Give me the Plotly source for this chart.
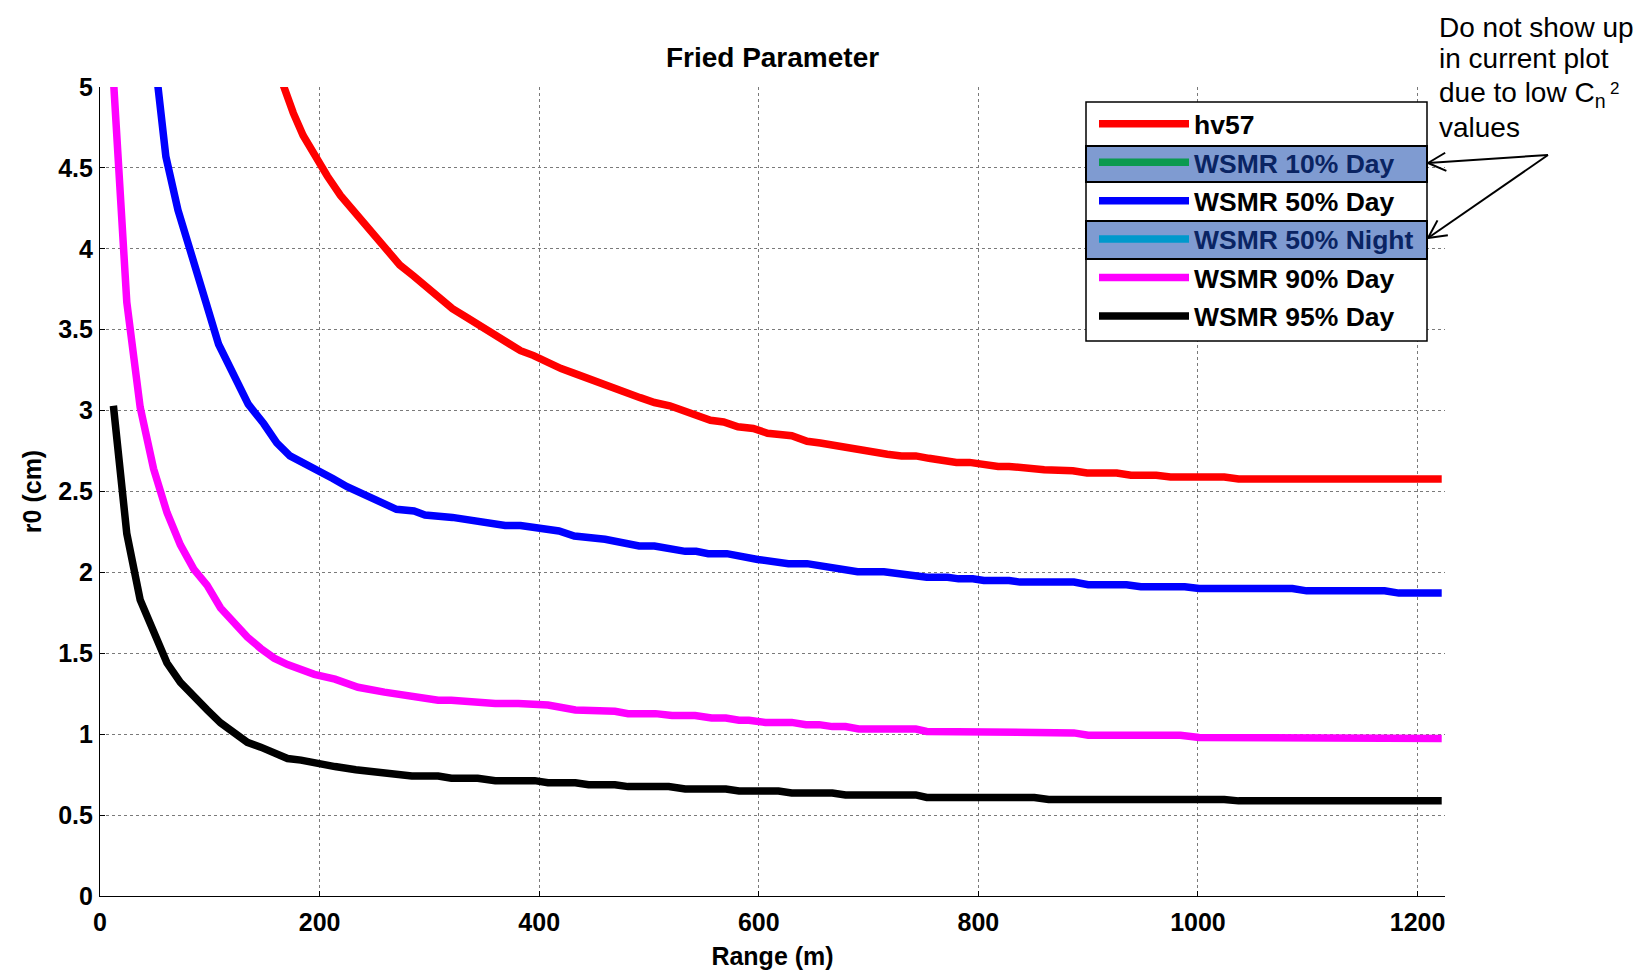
import math
import plotly.graph_objects as go

# ---------------- data ----------------
hv57_x = [158, 167, 176, 185, 195, 207, 219, 234, 246, 258, 273, 286, 298, 310, 321, 333,
          345, 357, 369, 383, 395, 407, 420, 432, 444, 456, 468, 480, 492, 505, 519, 531,
          543, 556, 568, 581, 595, 608, 630, 644, 656, 668, 680, 693, 705, 717, 730, 743,
          755, 770, 780, 792, 806, 818, 828, 847, 860, 886, 899, 926, 939, 962, 975, 1024,
          1037, 1222]
hv57_y = [5.18, 5.00, 4.84, 4.70, 4.58, 4.45, 4.33, 4.21, 4.10, 4.01, 3.90, 3.83, 3.76, 3.69,
          3.63, 3.58, 3.53, 3.48, 3.43, 3.37, 3.34, 3.30, 3.26, 3.23, 3.20, 3.17, 3.13, 3.10,
          3.08, 3.05, 3.03, 3.00, 2.97, 2.94, 2.93, 2.90, 2.89, 2.86, 2.845, 2.81, 2.80, 2.785,
          2.77, 2.76, 2.745, 2.73, 2.72, 2.72, 2.705, 2.69, 2.68, 2.68, 2.665, 2.655, 2.655,
          2.64, 2.635, 2.628, 2.614, 2.614, 2.60, 2.60, 2.59, 2.59, 2.578, 2.578]

# these two series have no values inside the plotted range (legend only)
day10_x = [None]
day10_y = [None]

day50_x = [47, 60, 71, 83.5, 96, 108, 122, 135, 149, 161, 173, 185, 199, 212, 225, 240, 252,
           270, 286, 296, 321, 345, 369, 383, 401, 418, 432, 460, 491, 505, 533, 543, 554,
           571, 599, 627, 644, 690, 714, 728, 743, 753, 772, 782, 795, 805, 828, 838, 887,
           900, 935, 948, 988, 1001, 1086, 1099, 1170, 1183, 1222]
day50_y = [5.35, 4.57, 4.24, 3.94, 3.68, 3.41, 3.21, 3.04, 2.92, 2.80, 2.72, 2.68, 2.63, 2.58,
           2.53, 2.48, 2.44, 2.39, 2.38, 2.355, 2.34, 2.31, 2.29, 2.29, 2.27, 2.256, 2.225,
           2.205, 2.163, 2.163, 2.13, 2.13, 2.116, 2.116, 2.08, 2.054, 2.054, 2.004, 2.004,
           1.99, 1.986, 1.97, 1.97, 1.96, 1.96, 1.95, 1.95, 1.94, 1.94, 1.924, 1.924, 1.911,
           1.911, 1.90, 1.90, 1.886, 1.886, 1.872, 1.872]

night50_x = [None]
night50_y = [None]

day90_x = [12.2, 24.4, 36.6, 48.8, 61, 73.2, 85.4, 97.6, 109.8, 122, 134.2, 146.4, 158.6,
           170.8, 183, 195.2, 214, 235, 259, 284, 308, 320, 335, 344, 360, 381, 400, 408,
           433, 445, 460, 469, 481, 506, 521, 542, 557, 570, 582, 591, 606, 630, 643, 655,
           667, 679, 691, 743, 753, 789, 802, 887, 900, 984, 1001, 1144, 1157, 1222]
day90_y = [5.05, 3.67, 3.02, 2.64, 2.37, 2.17, 2.02, 1.92, 1.78, 1.69, 1.60, 1.53, 1.47, 1.43,
           1.40, 1.37, 1.34, 1.29, 1.26, 1.235, 1.21, 1.21, 1.20, 1.20, 1.19, 1.19, 1.18, 1.18,
           1.15, 1.15, 1.14, 1.142, 1.127, 1.127, 1.115, 1.115, 1.10, 1.10, 1.086, 1.086,
           1.073, 1.073, 1.059, 1.059, 1.047, 1.047, 1.032, 1.032, 1.017, 1.017, 1.008, 1.008,
           0.994, 0.994, 0.98, 0.98, 0.973, 0.973]

day95_x = [12.2, 24.4, 36.6, 48.8, 61, 73.2, 85.4, 97.6, 109.8, 122, 134.2, 146.4, 158.6,
           170.8, 183, 195.2, 214, 233, 250, 259, 284, 308, 320, 344, 360, 396, 408, 433,
           445, 469, 481, 518, 533, 570, 582, 618, 630, 667, 679, 743, 753, 851, 864, 1024,
           1037, 1222]
day95_y = [3.03, 2.24, 1.83, 1.62, 1.44, 1.32, 1.23, 1.15, 1.07, 1.01, 0.95, 0.92, 0.88, 0.85,
           0.84, 0.82, 0.80, 0.78, 0.765, 0.765, 0.742, 0.742, 0.728, 0.728, 0.713, 0.713,
           0.70, 0.70, 0.688, 0.688, 0.676, 0.676, 0.661, 0.661, 0.649, 0.649, 0.637, 0.637,
           0.625, 0.625, 0.609, 0.609, 0.597, 0.597, 0.588, 0.588]

x_ticks = [0, 200, 400, 600, 800, 1000, 1200]
y_ticks = [0, 0.5, 1, 1.5, 2, 2.5, 3, 3.5, 4, 4.5, 5]

series = [
    ("hv57", hv57_x, hv57_y, "#ff0000", False),
    ("WSMR 10% Day", day10_x, day10_y, "#0b9a4f", True),
    ("WSMR 50% Day", day50_x, day50_y, "#0000ff", False),
    ("WSMR 50% Night", night50_x, night50_y, "#0099cc", True),
    ("WSMR 90% Day", day90_x, day90_y, "#ff00ff", False),
    ("WSMR 95% Day", day95_x, day95_y, "#000000", False),
]

# ---------------- layout geometry (screen pixels; page body has an 8px margin) ----------------
OFF = 8
W, H = 1652 - OFF, 970 - OFF
PL, PR, PT, PB = 100, 1445, 87, 896
X_MAX = 1225


def fx(p):
    return (p - PL) / (PR - PL)


def fy(p):
    return (PB - p) / (PB - PT)


FONT = "Liberation Sans, Arial, sans-serif"
HILITE_TEXT = "#0a2463"

fig = go.Figure()
for i, (name, xs, ys, col, hidden) in enumerate(series):
    label = f'<span style="color:{HILITE_TEXT}">{name}</span>' if hidden else name
    fig.add_trace(go.Scatter(x=xs, y=ys, mode="lines", name=label,
                             line=dict(color=col, width=7.5),
                             legendgroup=f"g{i}", showlegend=True))

axis_common = dict(showgrid=True, gridcolor="#7a7a7a", griddash="dot", gridwidth=1,
                   zeroline=False, ticks="inside", ticklen=5, tickcolor="black",
                   tickfont=dict(family=FONT, size=25, color="black", weight="bold"),
                   showline=True, linecolor="black", linewidth=1.2)

fig.update_layout(
    width=W, height=H,
    margin=dict(l=PL - OFF, r=W - (PR - OFF), t=PT - OFF, b=H - (PB - OFF), autoexpand=False),
    paper_bgcolor="white", plot_bgcolor="white",
    title=dict(text="Fried Parameter", x=0.5, xref="paper", xanchor="center",
               y=1 - (57 - OFF) / H, yanchor="middle",
               font=dict(family=FONT, size=28, color="black", weight="bold")),
    xaxis=dict(range=[0, X_MAX], tickvals=x_ticks, ticklabelstandoff=4, **axis_common,
               title=dict(text="Range (m)", standoff=12,
                          font=dict(family=FONT, size=25, color="black", weight="bold"))),
    yaxis=dict(range=[0, 5], tickvals=y_ticks, ticklabelstandoff=1, **axis_common,
               title=dict(text="r0 (cm)", standoff=9,
                          font=dict(family=FONT, size=25, color="black", weight="bold"))),
    xaxis2=dict(range=[0, X_MAX], tickvals=x_ticks, overlaying="x", side="top", anchor="y",
                showgrid=False, zeroline=False, showline=False, ticks="inside", ticklen=5,
                tickcolor="black", showticklabels=False),
    yaxis2=dict(range=[0, 5], tickvals=y_ticks, overlaying="y", side="right", anchor="x",
                showgrid=False, zeroline=False, showline=False, ticks="inside", ticklen=5,
                tickcolor="black", showticklabels=False),
    legend=dict(x=fx(1094), y=fy(100), xanchor="left", yanchor="top",
                bgcolor="rgba(0,0,0,0)", borderwidth=0, itemwidth=90,
                tracegroupgap=1,
                font=dict(family=FONT, size=26.5, color="black", weight="bold")),
    showlegend=True,
)

# legend box and highlighted rows
shapes = [
    dict(type="rect", xref="paper", yref="paper", x0=fx(1086), x1=fx(1427), y0=fy(341), y1=fy(102),
         fillcolor="white", line=dict(color="black", width=1.5), layer="above"),
    dict(type="rect", xref="paper", yref="paper", x0=fx(1086), x1=fx(1427), y0=fy(182), y1=fy(146),
         fillcolor="#7f9bd1", line=dict(color="black", width=2), layer="above"),
    dict(type="rect", xref="paper", yref="paper", x0=fx(1086), x1=fx(1427), y0=fy(259), y1=fy(221),
         fillcolor="#7f9bd1", line=dict(color="black", width=2), layer="above"),
]

# arrows (open V heads)
origin = (1548, 155)
for tip in [(1428, 163), (1428, 238)]:
    shapes.append(dict(type="line", xref="paper", yref="paper",
                       x0=fx(origin[0]), y0=fy(origin[1]), x1=fx(tip[0]), y1=fy(tip[1]),
                       line=dict(color="black", width=2), layer="above"))
    dx, dy = origin[0] - tip[0], origin[1] - tip[1]
    d = math.hypot(dx, dy)
    ux, uy = dx / d, dy / d
    for ang in (math.radians(27), -math.radians(27)):
        rx = ux * math.cos(ang) - uy * math.sin(ang)
        ry = ux * math.sin(ang) + uy * math.cos(ang)
        shapes.append(dict(type="line", xref="paper", yref="paper",
                           x0=fx(tip[0]), y0=fy(tip[1]),
                           x1=fx(tip[0] + 20 * rx), y1=fy(tip[1] + 20 * ry),
                           line=dict(color="black", width=2), layer="above"))
fig.update_layout(shapes=shapes)

# note text
note_lines = ["Do not show up", "in current plot", "due to low C<sub>n</sub>", "values"]
note_centers = [27, 59, 94, 127.5]
anns = []
for txt, cy in zip(note_lines, note_centers):
    anns.append(dict(text=txt, xref="paper", yref="paper", x=fx(1438), y=fy(cy),
                     xanchor="left", yanchor="middle", showarrow=False, borderpad=0,
                     font=dict(family=FONT, size=28, color="black")))
anns.append(dict(text="2", xref="paper", yref="paper", x=fx(1609), y=fy(88),
                 xanchor="left", yanchor="middle", showarrow=False, borderpad=0,
                 font=dict(family=FONT, size=17, color="black")))
fig.update_layout(annotations=anns)

fig.write_html("out.html")
